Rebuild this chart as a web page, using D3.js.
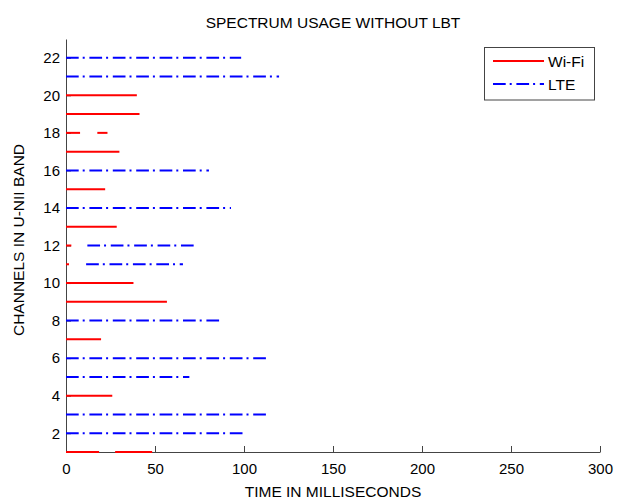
<!DOCTYPE html>
<html><head><meta charset="utf-8">
<script src="https://cdn.jsdelivr.net/npm/d3@7"></script>
<style>body{margin:0;background:#fff}</style>
</head><body>
<div id="chart"></div>
<script>
// Wi-Fi transmission segments (channel, start ms, end ms)
const wifiChannels = [1, 1, 4, 7, 9, 10, 11, 12, 13, 15, 17, 18, 18, 19, 20];
const wifiStart    = [0, 27.6, 0, 0, 0, 0, 0, 0, 0, 0, 0, 0, 17.6, 0, 0];
const wifiEnd      = [18.6, 48.4, 26, 19.7, 56.7, 37.9, 1.7, 3, 28.5, 22, 30, 7.9, 23.3, 41.3, 39.8];
// LTE transmission segments
const lteChannels = [2, 3, 5, 6, 8, 11, 12, 14, 16, 21, 22];
const lteStart    = [0, 0, 0, 0, 0, 11.3, 12, 0, 0, 0, 0];
const lteEnd      = [99.3, 112.4, 69.3, 112.4, 86, 65.7, 72, 92.7, 80.3, 119.7, 98.4];

const xTicks = [0, 50, 100, 150, 200, 250, 300];
const yTicks = [2, 4, 6, 8, 10, 12, 14, 16, 18, 20, 22];
const seriesNames = ["Wi-Fi", "LTE"];

const W = 617, H = 501;
const m = {left: 66, right: 17, top: 39, bottom: 49};
const font = "'Liberation Sans', Arial, sans-serif";
const svg = d3.select("#chart").append("svg").attr("width", W).attr("height", H)
  .style("font-family", font);

const x = d3.scaleLinear().domain([0, 300]).range([m.left, W - m.right]);
const y = d3.scaleLinear().domain([1, 23]).range([H - m.bottom, m.top]);

const axisColor = "#444";
// x axis (ticks inward)
const xa = svg.append("g").attr("transform", `translate(0,${y(1)})`)
  .call(d3.axisBottom(x).tickValues(xTicks).tickSizeInner(-6).tickSizeOuter(0).tickPadding(11));
// y axis
const ya = svg.append("g").attr("transform", `translate(${x(0)},0)`)
  .call(d3.axisLeft(y).tickValues(yTicks).tickSizeInner(-5).tickSizeOuter(0).tickPadding(6));
[xa, ya].forEach(g => {
  g.select(".domain").attr("stroke", axisColor);
  g.selectAll(".tick line").attr("stroke", axisColor);
  g.selectAll(".tick text").attr("fill", "#000").style("font-size", "15px").style("font-family", font);
});

const wifi = wifiChannels.map((c, i) => ({c, s: wifiStart[i], e: wifiEnd[i]}));
const lte = lteChannels.map((c, i) => ({c, s: lteStart[i], e: lteEnd[i]}));
const lteDash = "12.7,4,2,4.7";

svg.append("g").selectAll("line").data(wifi).join("line")
  .attr("x1", d => x(d.s)).attr("x2", d => x(d.e))
  .attr("y1", d => y(d.c)).attr("y2", d => y(d.c))
  .attr("stroke", "#ff0000").attr("stroke-width", 2);

svg.append("g").selectAll("line").data(lte).join("line")
  .attr("x1", d => x(d.s)).attr("x2", d => x(d.e))
  .attr("y1", d => y(d.c)).attr("y2", d => y(d.c))
  .attr("stroke", "#0000ff").attr("stroke-width", 2)
  .attr("stroke-dasharray", lteDash);

// title and labels
svg.append("text").attr("x", (x(0) + x(300)) / 2).attr("y", 28).attr("text-anchor", "middle")
  .style("font-size", "15.5px").attr("fill", "#000").text("SPECTRUM USAGE WITHOUT LBT");
svg.append("text").attr("x", (x(0) + x(300)) / 2).attr("y", 497).attr("text-anchor", "middle")
  .style("font-size", "15.5px").attr("fill", "#000").text("TIME IN MILLISECONDS");
svg.append("text").attr("transform", `translate(23.5,240) rotate(-90)`).attr("text-anchor", "middle")
  .style("font-size", "15.5px").attr("fill", "#000").text("CHANNELS IN U-NII BAND");

// legend
const lg = svg.append("g");
lg.append("rect").attr("x", 484.5).attr("y", 47.5).attr("width", 110).attr("height", 52.5)
  .attr("fill", "#fff").attr("stroke", axisColor);
const lItems = [{name: seriesNames[0], color: "#ff0000", dash: null, yy: 61},
                {name: seriesNames[1], color: "#0000ff", dash: lteDash, yy: 84}];
lItems.forEach(it => {
  lg.append("line").attr("x1", 493).attr("x2", 544).attr("y1", it.yy).attr("y2", it.yy)
    .attr("stroke", it.color).attr("stroke-width", 2)
    .attr("stroke-dasharray", it.dash);
  lg.append("text").attr("x", 548).attr("y", it.yy + 5.5).style("font-size", "15.5px")
    .attr("fill", "#000").text(it.name);
});
</script>
</body></html>
